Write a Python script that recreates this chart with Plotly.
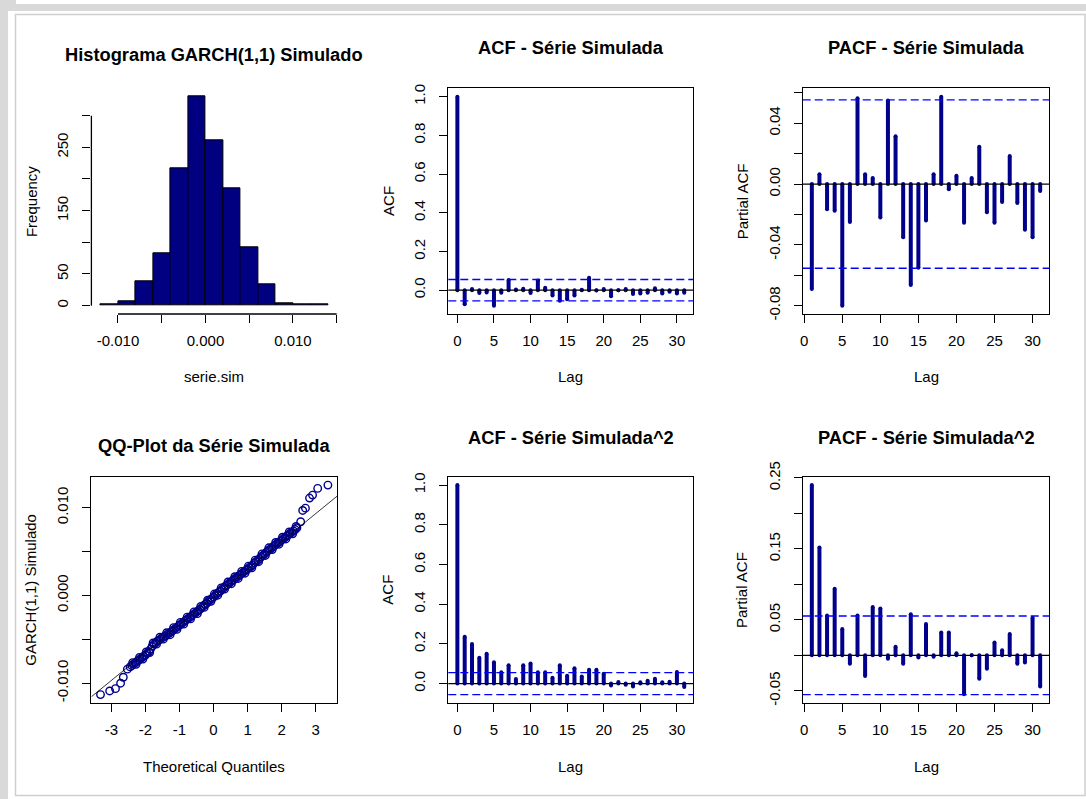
import plotly.graph_objects as go

W, H = 1086, 799

# ---------------- data ----------------
# histogram of the simulated GARCH(1,1) series
hist_edges = [-0.012, -0.010, -0.008, -0.006, -0.004, -0.002, 0.000,
              0.002, 0.004, 0.006, 0.008, 0.010, 0.012, 0.014]
hist_counts = [2, 7, 39, 83, 217, 330, 261, 185, 92, 34, 4, 2, 2]
hist_xticks = [-0.010, -0.005, 0.000, 0.005, 0.010, 0.015]
hist_xlabels = ["-0.010", "", "0.000", "", "0.010", ""]
hist_yticks = [0, 50, 100, 150, 200, 250, 300]
hist_ylabels = ["0", "50", "", "150", "", "250", ""]

# 95% bound drawn on the correlograms
conf_bound = 0.0554

acf_lags = list(range(0, 32))
acf_vals = [1.000, -0.073, 0.006, -0.015, -0.012, -0.080, -0.013, 0.052,
            0.004, 0.007, -0.015, 0.050, 0.012, -0.027, -0.055, -0.047,
            -0.027, 0.002, 0.064, -0.002, 0.006, -0.032, 0.000, 0.006,
            -0.020, -0.017, -0.013, 0.010, -0.017, -0.008, -0.017, -0.013]

pacf_lags = list(range(1, 32))
pacf_vals = [-0.069, 0.0065, -0.0165, -0.0175, -0.080, -0.025, 0.0565, 0.0065,
             0.0040, -0.0220, 0.0550, 0.0315, -0.0350, -0.0665, -0.0550, -0.0240,
             0.0065, 0.0575, -0.0035, 0.0055, -0.0255, 0.0040, 0.0245, -0.0185,
             -0.0255, -0.0118, 0.0185, -0.0125, -0.0300, -0.0350, -0.0045]

acf2_vals = [1.000, 0.236, 0.200, 0.130, 0.150, 0.108, 0.057, 0.092,
             0.023, 0.092, 0.101, 0.057, 0.057, 0.030, 0.092, 0.040,
             0.077, 0.036, 0.070, 0.070, 0.050, -0.010, 0.008, -0.006,
             -0.014, 0.007, 0.014, 0.025, 0.007, 0.010, 0.058, -0.017]

pacf2_vals = [0.240, 0.152, 0.056, 0.094, 0.037, -0.012, 0.056, -0.029,
              0.068, 0.066, -0.005, 0.012, -0.012, 0.058, -0.003, 0.044,
              -0.002, 0.032, 0.032, 0.003, -0.055, 0.000, -0.033, -0.019,
              0.018, 0.007, 0.030, -0.012, -0.010, 0.053, -0.044]

acf_yticks = [0.0, 0.2, 0.4, 0.6, 0.8, 1.0]
acf_ylabels = ["0.0", "0.2", "0.4", "0.6", "0.8", "1.0"]
lag_ticks = [0, 5, 10, 15, 20, 25, 30]
pacf_yticks = [-0.08, -0.06, -0.04, -0.02, 0.00, 0.02, 0.04, 0.06]
pacf_ylabels = ["-0.08", "", "-0.04", "", "0.00", "", "0.04", ""]
pacf2_yticks = [-0.05, 0.00, 0.05, 0.10, 0.15, 0.20, 0.25]
pacf2_ylabels = ["-0.05", "", "0.05", "", "0.15", "", "0.25"]

# normal QQ plot: theoretical quantile / sample value pairs
qq_theor = [-3.32, -3.05, -2.88, -2.73, -2.65, -2.53,
            -2.45, -2.40, -2.35, -2.30, -2.25, -2.20, -2.15, -2.10, -2.05,
            -2.00, -1.95, -1.90, -1.85, -1.80, -1.75, -1.70, -1.65, -1.60,
            -1.55, -1.50, -1.45, -1.40, -1.35, -1.30, -1.25, -1.20, -1.15,
            -1.10, -1.05, -1.00, -0.95, -0.90, -0.85, -0.80, -0.75, -0.70,
            -0.65, -0.60, -0.55, -0.50, -0.45, -0.40, -0.35, -0.30, -0.25,
            -0.20, -0.15, -0.10, -0.05, 0.00, 0.05, 0.10, 0.15, 0.20,
            0.25, 0.30, 0.35, 0.40, 0.45, 0.50, 0.55, 0.60, 0.65,
            0.70, 0.75, 0.80, 0.85, 0.90, 0.95, 1.00, 1.05, 1.10,
            1.15, 1.20, 1.25, 1.30, 1.35, 1.40, 1.45, 1.50, 1.55,
            1.60, 1.65, 1.70, 1.75, 1.80, 1.85, 1.90, 1.95, 2.00,
            2.05, 2.10, 2.15, 2.20, 2.25, 2.30, 2.35, 2.40, 2.45,
            2.56, 2.62, 2.70, 2.82, 2.91, 3.06, 3.36]
qq_sample = [-0.01131, -0.01089, -0.01063, -0.01001, -0.00933, -0.00841,
             -0.00815, -0.00800, -0.00782, -0.00770, -0.00752, -0.00740, -0.00722, -0.00710, -0.00692,
             -0.00680, -0.00660, -0.00640, -0.00612, -0.00580, -0.00555, -0.00540, -0.00522, -0.00510,
             -0.00495, -0.00480, -0.00468, -0.00460, -0.00442, -0.00430, -0.00416, -0.00400, -0.00386,
             -0.00370, -0.00356, -0.00340, -0.00326, -0.00310, -0.00296, -0.00280, -0.00266, -0.00250,
             -0.00236, -0.00220, -0.00206, -0.00190, -0.00176, -0.00160, -0.00140, -0.00120, -0.00104,
             -0.00090, -0.00070, -0.00050, -0.00036, -0.00020, 0.00000, 0.00020, 0.00034, 0.00050,
             0.00070, 0.00090, 0.00104, 0.00120, 0.00136, 0.00150, 0.00166, 0.00180, 0.00196,
             0.00210, 0.00226, 0.00240, 0.00256, 0.00270, 0.00286, 0.00300, 0.00316, 0.00330,
             0.00348, 0.00370, 0.00384, 0.00400, 0.00418, 0.00440, 0.00456, 0.00470, 0.00490,
             0.00510, 0.00524, 0.00540, 0.00556, 0.00570, 0.00586, 0.00600, 0.00616, 0.00630,
             0.00646, 0.00660, 0.00676, 0.00690, 0.00706, 0.00720, 0.00734, 0.00750, 0.00770,
             0.00839, 0.00968, 0.00994, 0.01109, 0.01143, 0.01219, 0.01257]
# further points along the dense central band (upper and lower edges of the cloud)
qq_theor_band = [-2.375, -2.275, -2.175, -2.075, -1.975, -1.875, -1.775, -1.675, -1.575,
                 -1.475, -1.375, -1.275, -1.175, -1.075, -0.975, -0.875, -0.775, -0.675,
                 -0.575, -0.475, -0.375, -0.275, -0.175, -0.075, 0.025, 0.125, 0.225,
                 0.325, 0.425, 0.525, 0.625, 0.725, 0.825, 0.925, 1.025, 1.125,
                 1.225, 1.325, 1.425, 1.525, 1.625, 1.725, 1.825, 1.925, 2.025,
                 2.125, 2.225, 2.325, 2.425]
qq_sample_band = [-0.00766, -0.00786, -0.00706, -0.00726, -0.00645, -0.00651, -0.00543, -0.00556, -0.00477,
                  -0.00499, -0.00426, -0.00448, -0.00368, -0.00388, -0.00308, -0.00328, -0.00248, -0.00268,
                  -0.00188, -0.00208, -0.00125, -0.00137, -0.00055, -0.00068, 0.00015, 0.00002, 0.00085,
                  0.00072, 0.00153, 0.00133, 0.00213, 0.00193, 0.00273, 0.00253, 0.00333, 0.00314,
                  0.00402, 0.00384, 0.00473, 0.00455, 0.00542, 0.00523, 0.00603, 0.00583, 0.00663,
                  0.00643, 0.00723, 0.00702, 0.00785]
qq_line_slope = 0.003168
qq_line_intercept = -0.00019
qq_xticks = [-3, -2, -1, 0, 1, 2, 3]
qq_yticks = [-0.010, -0.005, 0.000, 0.005, 0.010]
qq_ylabels = ["-0.010", "", "0.000", "", "0.010"]

# ---------------- styling ----------------
FONT = "Liberation Sans, Arial, sans-serif"
TICK_SIZE = 15
TITLE_SIZE = 18.3
BAR_COLOR = "#00008B"
CI_COLOR = "#0000FF"
SPIKE_W = 4


def padded(lo, hi, frac=0.04):
    pad = (hi - lo) * frac
    return [lo - pad, hi + pad]


def px_x(p):
    return p / W


def px_y(p):
    return 1 - p / H


cols = [(91.4, 337.0), (448.3, 693.3), (802.7, 1049.3)]
rows = [(88.3, 314.0), (476.7, 703.0)]

fig = go.Figure()

panels = {}
idx = 0
for r in range(2):
    for c in range(3):
        idx += 1
        panels[(r, c)] = idx


def axname(i, kind):
    return kind if i == 1 else f"{kind}{i}"


def refs(i):
    return ("x" if i == 1 else f"x{i}"), ("y" if i == 1 else f"y{i}")


axis_common = dict(
    ticks="outside", ticklen=8, tickwidth=1, tickcolor="black",
    showgrid=False, zeroline=False, fixedrange=True, automargin=False,
    tickfont=dict(family=FONT, size=TICK_SIZE, color="black"),
)

shapes = []
annotations = []


def set_axes(i, r, c, xrange, yrange, xticks, xlabels, yticks, ylabels, boxed=True):
    xa, ya = axname(i, "xaxis"), axname(i, "yaxis")
    xr, yr = refs(i)
    line = dict(showline=True, mirror=True, linecolor="black", linewidth=1.3) if boxed else dict(showline=False)
    fig.layout[xa] = dict(
        domain=[px_x(cols[c][0]), px_x(cols[c][1])], range=xrange, anchor=yr,
        tickmode="array", tickvals=xticks, ticktext=xlabels, ticklabelstandoff=5,
        **line, **axis_common)
    fig.layout[ya] = dict(
        domain=[px_y(rows[r][1]), px_y(rows[r][0])], range=yrange, anchor=xr,
        tickmode="array", tickvals=yticks, ticktext=ylabels, tickangle=-90,
        ticklabelstandoff=8, **line, **axis_common)


def add_labels(r, c, title, xlabel, ylabel, title_y):
    cx = px_x((cols[c][0] + cols[c][1]) / 2)
    annotations.append(dict(
        text=f"<b>{title}</b>", x=cx, y=px_y(title_y), xref="paper", yref="paper",
        xanchor="center", yanchor="middle", showarrow=False,
        font=dict(family=FONT, size=TITLE_SIZE, color="black")))
    annotations.append(dict(
        text=xlabel, x=cx, y=px_y([376, 766][r]), xref="paper", yref="paper",
        xanchor="center", yanchor="middle", showarrow=False,
        font=dict(family=FONT, size=TICK_SIZE, color="black")))
    annotations.append(dict(
        text=ylabel, x=px_x(cols[c][0] - 60.5), y=px_y((rows[r][0] + rows[r][1]) / 2),
        xref="paper", yref="paper", xanchor="center", yanchor="middle",
        textangle=-90, showarrow=False,
        font=dict(family=FONT, size=TICK_SIZE, color="black")))


def correlogram(i, r, c, lags, vals, yticks, ylabels, title, ylabel, title_y):
    xr, yr = refs(i)
    # vertical spikes from zero to each coefficient, with rounded ends
    sx, sy = [], []
    for lag, v in zip(lags, vals):
        sx += [lag, lag, None]
        sy += [0, v, None]
    fig.add_trace(go.Scatter(
        x=sx, y=sy, mode="lines+markers",
        line=dict(color=BAR_COLOR, width=SPIKE_W),
        marker=dict(color=BAR_COLOR, size=SPIKE_W, line=dict(width=0)),
        xaxis=xr, yaxis=yr, showlegend=False, hoverinfo="x+y"))
    ylo = min(min(vals), -conf_bound)
    yhi = max(max(vals), conf_bound)
    set_axes(i, r, c, padded(min(lags), max(lags)), padded(ylo, yhi),
             lag_ticks, [str(t) for t in lag_ticks], yticks, ylabels)
    shapes.append(dict(type="line", xref=f"{xr} domain", yref=yr, x0=0, x1=1, y0=0, y1=0,
                       line=dict(color="black", width=1.3)))
    for b in (conf_bound, -conf_bound):
        shapes.append(dict(type="line", xref=f"{xr} domain", yref=yr, x0=0, x1=1, y0=b, y1=b,
                           line=dict(color=CI_COLOR, width=1.4, dash="8px,4px")))
    add_labels(r, c, title, "Lag", ylabel, title_y)


# --- histogram ---
i = panels[(0, 0)]
xr, yr = refs(i)
centers = [(a + b) / 2 for a, b in zip(hist_edges[:-1], hist_edges[1:])]
widths = [b - a for a, b in zip(hist_edges[:-1], hist_edges[1:])]
fig.add_trace(go.Bar(
    x=centers, y=hist_counts, width=widths,
    marker=dict(color="#000080", line=dict(color="black", width=1)),
    xaxis=xr, yaxis=yr, showlegend=False))
set_axes(i, 0, 0, padded(hist_edges[0], hist_edges[-1]), padded(0, max(hist_counts)),
         hist_xticks, hist_xlabels, hist_yticks, hist_ylabels, boxed=False)
shapes.append(dict(type="line", xref=xr, yref=f"{yr} domain", x0=hist_xticks[0], x1=hist_xticks[-1],
                   y0=0, y1=0, line=dict(color="black", width=1.3)))
shapes.append(dict(type="line", xref=f"{xr} domain", yref=yr, x0=0, x1=0,
                   y0=hist_yticks[0], y1=hist_yticks[-1], line=dict(color="black", width=1.3)))
add_labels(0, 0, "Histograma GARCH(1,1) Simulado", "serie.sim", "Frequency", 55)

# --- correlograms ---
correlogram(panels[(0, 1)], 0, 1, acf_lags, acf_vals, acf_yticks, acf_ylabels,
            "ACF - Série Simulada", "ACF", 47.8)
correlogram(panels[(0, 2)], 0, 2, pacf_lags, pacf_vals, pacf_yticks, pacf_ylabels,
            "PACF - Série Simulada", "Partial ACF", 47.8)
correlogram(panels[(1, 1)], 1, 1, acf_lags, acf2_vals, acf_yticks, acf_ylabels,
            "ACF - Série Simulada^2", "ACF", 437)
correlogram(panels[(1, 2)], 1, 2, pacf_lags, pacf2_vals, pacf2_yticks, pacf2_ylabels,
            "PACF - Série Simulada^2", "Partial ACF", 437)

# --- QQ plot ---
i = panels[(1, 0)]
xr, yr = refs(i)
all_theor = qq_theor + qq_theor_band
all_sample = qq_sample + qq_sample_band
qx_range = padded(min(all_theor), max(all_theor))
qy_range = padded(min(all_sample), max(all_sample))
fig.add_trace(go.Scatter(
    x=all_theor, y=all_sample, mode="markers",
    marker=dict(symbol="circle-open", size=7.5, color=BAR_COLOR, line=dict(width=1.4)),
    xaxis=xr, yaxis=yr, showlegend=False, cliponaxis=True))
line_x = qx_range
fig.add_trace(go.Scatter(
    x=line_x, y=[qq_line_intercept + qq_line_slope * t for t in line_x], mode="lines",
    line=dict(color="black", width=0.8), xaxis=xr, yaxis=yr, showlegend=False))
set_axes(i, 1, 0, qx_range, qy_range, qq_xticks, [str(t) for t in qq_xticks],
         qq_yticks, qq_ylabels)
add_labels(1, 0, "QQ-Plot da Série Simulada", "Theoretical Quantiles",
           "GARCH(1,1) Simulado", 445)

# --- window frame ---
frame = "#d9d9d9"
shapes += [
    dict(type="rect", xref="paper", yref="paper", x0=0, x1=1, y0=px_y(11), y1=px_y(4),
         fillcolor=frame, line=dict(width=0), layer="below"),
    dict(type="rect", xref="paper", yref="paper", x0=0, x1=px_x(8), y0=0, y1=1,
         fillcolor=frame, line=dict(width=0), layer="below"),
    dict(type="rect", xref="paper", yref="paper", x0=0, x1=px_x(16), y0=px_y(11), y1=1,
         fillcolor=frame, line=dict(width=0), layer="below"),
    dict(type="rect", xref="paper", yref="paper", x0=px_x(15.5), x1=px_x(1085), y0=px_y(795.5),
         y1=px_y(14.5), line=dict(color="#cfcfcf", width=1.5), layer="below"),
]

fig.update_layout(
    width=W, height=H, autosize=False,
    margin=dict(l=0, r=0, t=0, b=0, pad=0),
    paper_bgcolor="white", plot_bgcolor="white",
    bargap=0, showlegend=False,
    shapes=shapes, annotations=annotations,
    font=dict(family=FONT, size=TICK_SIZE, color="black"),
)

fig.write_html("out.html", config={"displayModeBar": False})
